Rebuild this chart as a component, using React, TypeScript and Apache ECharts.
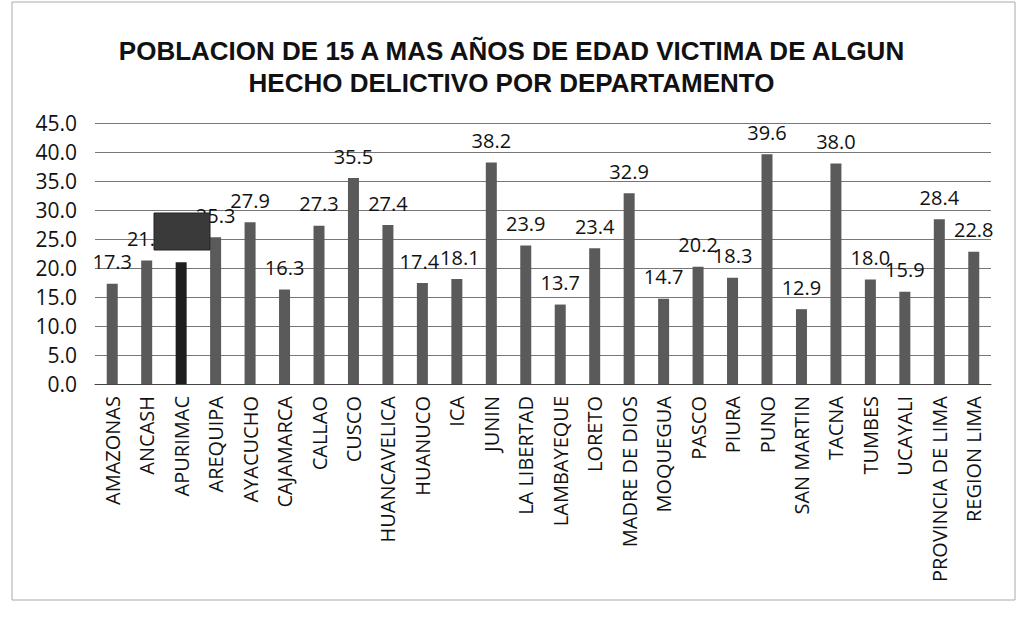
import React, { useEffect, useRef } from "react";
import * as echarts from "echarts";

const titleLines = [
  "POBLACION DE 15 A MAS AÑOS DE EDAD VICTIMA DE ALGUN",
  "HECHO DELICTIVO POR DEPARTAMENTO",
];

const categories = [
  "AMAZONAS", "ANCASH", "APURIMAC", "AREQUIPA", "AYACUCHO", "CAJAMARCA", "CALLAO",
  "CUSCO", "HUANCAVELICA", "HUANUCO", "ICA", "JUNIN", "LA LIBERTAD", "LAMBAYEQUE",
  "LORETO", "MADRE DE DIOS", "MOQUEGUA", "PASCO", "PIURA", "PUNO", "SAN MARTIN",
  "TACNA", "TUMBES", "UCAYALI", "PROVINCIA DE LIMA", "REGION LIMA",
];

const values = [
  17.3, 21.3, 21.0, 25.3, 27.9, 16.3, 27.3,
  35.5, 27.4, 17.4, 18.1, 38.2, 23.9, 13.7,
  23.4, 32.9, 14.7, 20.2, 18.3, 39.6, 12.9,
  38.0, 18.0, 15.9, 28.4, 22.8,
];

// highlighted bar (its label is hidden under the redaction box in the reference)
const highlighted = ["APURIMAC"];

// small horizontal nudges for crowded labels
const labelNudge: Record<string, number> = { HUANUCO: -3, ICA: 3 };

export default function App() {
  const ref = useRef<HTMLDivElement>(null);
  useEffect(() => {
    if (!ref.current) return;
    const chart = echarts.init(ref.current, null, { renderer: "svg" });
    chart.setOption({
      animation: false,
      backgroundColor: "#ffffff",
      textStyle: { fontFamily: "Open Sans" },
      title: {
        text: titleLines.join("\n"),
        left: "center",
        top: 30,
        textStyle: {
          fontFamily: "Liberation Sans",
          fontWeight: "bold",
          fontSize: 26,
          lineHeight: 32,
          color: "#111",
        },
      },
      grid: { left: 95, right: 32, top: 123, bottom: 235 },
      xAxis: {
        type: "category",
        data: categories,
        axisTick: { show: false },
        axisLine: { lineStyle: { color: "#444", width: 1 } },
        axisLabel: {
          rotate: 90,
          interval: 0,
          fontSize: 20,
          color: "#111",
          margin: 12,
          fontFamily: "Open Sans",
        },
      },
      yAxis: {
        type: "value",
        min: 0,
        max: 45,
        interval: 5,
        axisLine: { show: false },
        axisTick: { show: false },
        splitLine: { lineStyle: { color: "#777", width: 1 } },
        axisLabel: {
          formatter: (v: number) => v.toFixed(1),
          fontSize: 21,
          color: "#111",
          margin: 18,
          fontFamily: "Open Sans",
        },
      },
      series: [
        {
          type: "bar",
          barWidth: 11,
          data: values.map((v, i) => {
            const name = categories[i];
            if (highlighted.includes(name)) {
              return { value: v, itemStyle: { color: "#1e1e1e" }, label: { show: false } };
            }
            if (labelNudge[name] !== undefined) {
              return { value: v, label: { offset: [labelNudge[name], 0] } };
            }
            return { value: v };
          }),
          itemStyle: { color: "#5a5a5a" },
          label: {
            show: true,
            position: "top",
            distance: 12,
            fontSize: 20,
            color: "#111",
            fontFamily: "Open Sans",
            formatter: (p: any) => Number(p.value).toFixed(1),
          },
        },
      ],
      graphic: [
        {
          type: "rect",
          shape: { x: 12, y: 2, width: 1003, height: 598 },
          style: { fill: "none", stroke: "#aaa", lineWidth: 1 },
          silent: true,
        },
        {
          type: "rect",
          shape: { x: 154, y: 213, width: 56, height: 37 },
          style: { fill: "#3a3a3a", stroke: "#222", lineWidth: 1 },
          z: 100,
          silent: true,
        },
      ],
    });
    return () => chart.dispose();
  }, []);
  return (
    <div
      ref={ref}
      style={{ position: "fixed", left: 0, top: 0, width: 1023, height: 619 }}
    />
  );
}
